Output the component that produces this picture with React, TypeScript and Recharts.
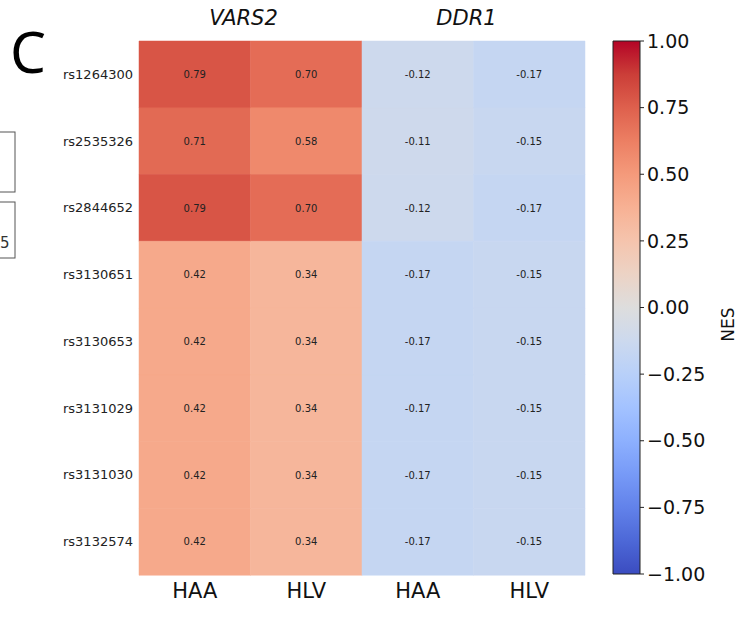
import React from 'react';
import { BarChart, Bar, XAxis, YAxis, Cell, LabelList } from 'recharts';

const SNPS = ['rs1264300', 'rs2535326', 'rs2844652', 'rs3130651', 'rs3130653', 'rs3131029', 'rs3131030', 'rs3132574'];
const GENES = ['VARS2', 'DDR1'];
const TISSUES = ['HAA', 'HLV', 'HAA', 'HLV'];
const VARS2_HAA = [0.79, 0.71, 0.79, 0.42, 0.42, 0.42, 0.42, 0.42];
const VARS2_HLV = [0.70, 0.58, 0.70, 0.34, 0.34, 0.34, 0.34, 0.34];
const DDR1_HAA = [-0.12, -0.11, -0.12, -0.17, -0.17, -0.17, -0.17, -0.17];
const DDR1_HLV = [-0.17, -0.15, -0.17, -0.15, -0.15, -0.15, -0.15, -0.15];
const NES_TICKS = [1, 0.75, 0.5, 0.25, 0, -0.25, -0.5, -0.75, -1];

// matplotlib coolwarm, sampled every 1/16
const COOLWARM: [number, number, number][] = [
  [59, 76, 192], [77, 104, 215], [98, 130, 234], [119, 154, 247],
  [141, 176, 254], [163, 194, 255], [184, 208, 249], [204, 217, 238],
  [221, 221, 221], [236, 211, 197], [245, 196, 173], [247, 177, 148],
  [244, 154, 123], [236, 127, 99], [222, 96, 77], [203, 62, 56], [180, 4, 38],
];

const FONT = '"DejaVu Sans", sans-serif';

// heatmap plot box
const PLOT_LEFT = 139;
const PLOT_RIGHT = 585;
const PLOT_WIDTH = PLOT_RIGHT - PLOT_LEFT;

function coolwarm(t: number) {
  const x = Math.max(0, Math.min(1, t)) * 16;
  const i = Math.min(15, Math.floor(x));
  const f = x - i;
  const a = COOLWARM[i];
  const b = COOLWARM[i + 1];
  const c = a.map((v, k) => Math.round(v + (b[k] - v) * f));
  return `rgb(${c[0]},${c[1]},${c[2]})`;
}

const nesColor = (v: number) => coolwarm((v + 1) / 2);

const COLUMNS = [VARS2_HAA, VARS2_HLV, DDR1_HAA, DDR1_HLV];

const rows = SNPS.map((snp, i) => {
  const row: Record<string, string | number> = { snp };
  COLUMNS.forEach((col, j) => {
    row[`w${j}`] = 1;
    row[`v${j}`] = col[i];
  });
  return row;
});

const colorbar = [{ name: 'NES', range: [-1, 1] }];

const fmtTick = (v: number) => v.toFixed(2).replace('-', '\u2212');

export default function App() {
  // top stops first: red at offset 0, blue at offset 1
  const stops = [...COOLWARM].reverse();
  return (
    <div style={{ position: 'absolute', left: 0, top: 0, width: 747, height: 618, background: '#fff', overflow: 'hidden', fontFamily: FONT }}>
      <svg width={747} height={618} style={{ position: 'absolute', left: 0, top: 0 }}>
        <text x={10} y={73} fontSize={57} fontFamily='"Noto Sans", sans-serif' fill="#000">C</text>
        <rect x={-5} y={132} width={20} height={60} fill="none" stroke="#555" strokeWidth={1} />
        <rect x={-5} y={202} width={20} height={56} fill="none" stroke="#555" strokeWidth={1} />
        <text x={0} y={248} fontSize={15} fontFamily={FONT} fill="#333">5</text>
        {GENES.map((g, k) => (
          <text
            key={g}
            x={PLOT_LEFT + (PLOT_WIDTH * (2 * k + 1)) / 4 - 7}
            y={25}
            textAnchor="middle"
            fontSize={21}
            fontStyle="italic"
            fontFamily={FONT}
            fill="#111"
          >
            {g}
          </text>
        ))}
      </svg>

      <div style={{ position: 'absolute', left: 0, top: 0 }}>
        <BarChart
          width={PLOT_RIGHT + 15}
          height={618}
          data={rows}
          layout="vertical"
          barCategoryGap={0}
          margin={{ top: 41, right: 15, bottom: 3, left: 0 }}
        >
          <XAxis
            type="number"
            domain={[0, 4]}
            ticks={[0.5, 1.5, 2.5, 3.5]}
            tickFormatter={(v: number) => TISSUES[Math.floor(v)]}
            axisLine={false}
            tickLine={false}
            height={40}
            tick={{ fontSize: 21, fill: '#111', fontFamily: FONT }}
          />
          <YAxis
            type="category"
            dataKey="snp"
            width={PLOT_LEFT}
            axisLine={false}
            tickLine={false}
            tickMargin={0}
            tick={{ fontSize: 13, fill: '#222', fontFamily: FONT }}
          />
          {COLUMNS.map((col, j) => (
            <Bar key={j} dataKey={`w${j}`} stackId="cells" isAnimationActive={false}>
              {col.map((v, i) => (
                <Cell key={i} fill={nesColor(v)} stroke={nesColor(v)} strokeWidth={0.5} />
              ))}
              <LabelList
                dataKey={`v${j}`}
                position="center"
                formatter={(v: number) => v.toFixed(2)}
                fill="#222"
                fontSize={10}
                fontFamily={FONT}
              />
            </Bar>
          ))}
        </BarChart>
      </div>

      <div style={{ position: 'absolute', left: 600, top: 0 }}>
        <BarChart
          width={147}
          height={618}
          data={colorbar}
          barCategoryGap={0}
          margin={{ top: 41, right: 0, bottom: 44, left: 13 }}
        >
          <defs>
            <linearGradient id="nesGrad" x1="0" y1="0" x2="0" y2="1">
              {stops.map((c, i) => (
                <stop key={i} offset={i / 16} stopColor={`rgb(${c[0]},${c[1]},${c[2]})`} />
              ))}
            </linearGradient>
          </defs>
          <XAxis dataKey="name" hide />
          <YAxis
            orientation="right"
            type="number"
            domain={[-1, 1]}
            ticks={NES_TICKS}
            tickFormatter={fmtTick}
            width={107}
            axisLine={false}
            tickLine={{ stroke: '#222' }}
            tickSize={4}
            tickMargin={3}
            tick={{ fontSize: 19, fill: '#111', fontFamily: FONT }}
            label={{ value: 'NES', angle: -90, position: 'insideRight', offset: 19, fontSize: 17, fill: '#111', fontFamily: FONT }}
          />
          <Bar dataKey="range" fill="url(#nesGrad)" stroke="#222" strokeWidth={1} isAnimationActive={false} />
        </BarChart>
      </div>
    </div>
  );
}
